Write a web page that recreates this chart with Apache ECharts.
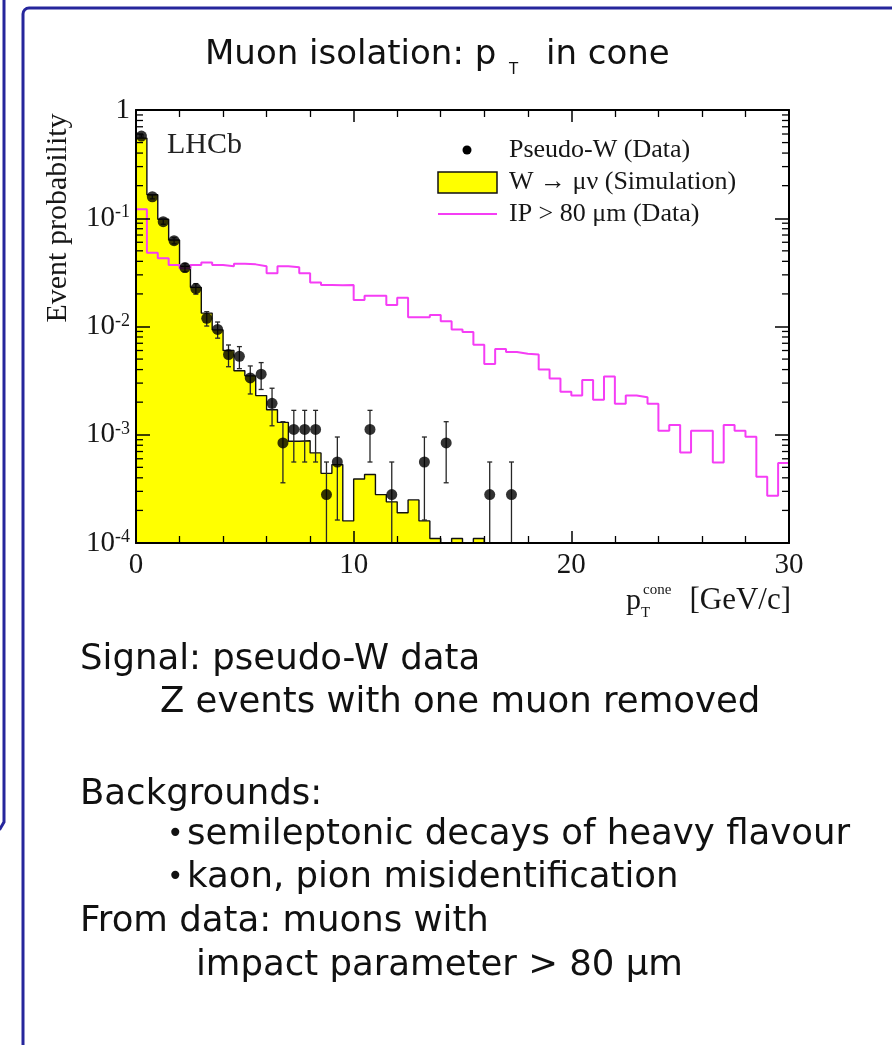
<!DOCTYPE html>
<html>
<head>
<meta charset="utf-8">
<script src="https://cdn.jsdelivr.net/npm/echarts@6/dist/echarts.min.js"></script>
<style>
  html, body { margin: 0; padding: 0; background: #ffffff; }
  #chart { width: 892px; height: 1045px; }
</style>
</head>
<body>
<div id="chart"></div>
<script>
// Bin edges of the p_T^cone histograms [GeV/c]
const binEdges = [0, 0.5, 1, 1.5, 2, 2.5, 3, 3.5, 4, 4.5, 5, 5.5, 6, 6.5, 7, 7.5, 8, 8.5, 9, 9.5,
  10, 10.5, 11, 11.5, 12, 12.5, 13, 13.5, 14, 14.5, 15, 15.5, 16, 16.5, 17, 17.5, 18, 18.5, 19, 19.5,
  20, 20.5, 21, 21.5, 22, 22.5, 23, 23.5, 24, 24.5, 25, 25.5, 26, 26.5, 27, 27.5, 28, 28.5, 29, 29.5, 30];

// W -> mu nu (Simulation): event probability per bin (0 = empty bin)
const simValues = [0.55, 0.165, 0.098, 0.063, 0.036, 0.023, 0.0133, 0.0093, 0.006, 0.0039,
  0.0035, 0.0023, 0.0017, 0.0013, 0.00087, 0.00088, 0.00068, 0.00044, 0.00053, 0.00016,
  0.00039, 0.00043, 0.00028, 0.00024, 0.00019, 0.00025, 0.00016, 0.00011, 0, 0.00011,
  0, 0.00011, 0, 0, 0, 0, 0, 0, 0, 0,
  0, 0, 0, 0, 0, 0, 0, 0, 0, 0,
  0, 0, 0, 0, 0, 0, 0, 0, 0, 0];

// IP > 80 um (Data): event probability per bin
const ipValues = [0.121, 0.048, 0.0427, 0.037, 0.0345, 0.037, 0.039, 0.037, 0.036, 0.038,
  0.0375, 0.036, 0.031, 0.036, 0.0352, 0.031, 0.0255, 0.0242, 0.024, 0.0242,
  0.0176, 0.0192, 0.0192, 0.0158, 0.0184, 0.0122, 0.0122, 0.0128, 0.0112, 0.0094,
  0.0089, 0.0068, 0.0045, 0.0062, 0.0058, 0.0056, 0.0055, 0.0040, 0.0033, 0.0025,
  0.0023, 0.0032, 0.0021, 0.00345, 0.00193, 0.0023, 0.00222, 0.00193, 0.00109, 0.00123,
  0.000685, 0.00109, 0.00109, 0.000554, 0.00123, 0.00109, 0.00096, 0.00041, 0.000273, 0.000547];

// Pseudo-W (Data): bin centres, values and error-bar ends (lo 0 = reaches the axis)
const dataX  = [0.25, 0.75, 1.25, 1.75, 2.25, 2.75, 3.25, 3.75, 4.25, 4.75, 5.25, 5.75, 6.25,
  6.75, 7.25, 7.75, 8.25, 8.75, 9.25, 10.75, 11.75, 13.25, 14.25, 16.25, 17.25];
const dataY  = [0.575, 0.158, 0.093, 0.062, 0.035, 0.0224, 0.0119, 0.0094, 0.0055, 0.0053, 0.00335, 0.00363, 0.00195,
  0.00084, 0.00112, 0.00112, 0.00112, 0.00028, 0.00056, 0.00112, 0.00028, 0.00056, 0.00084, 0.00028, 0.00028];
const dataLo = [0.562, 0.151, 0.088, 0.058, 0.032, 0.0199, 0.0101, 0.0078, 0.00425, 0.00408, 0.00238, 0.00262, 0.00121,
  0.00036, 0.00056, 0.00056, 0.00056, 0, 0.000163, 0.00056, 0, 0.000163, 0.00036, 0, 0];
const dataHi = [0.588, 0.165, 0.098, 0.066, 0.038, 0.0249, 0.0137, 0.0110, 0.00675, 0.00652, 0.00432, 0.00464, 0.00269,
  0.00132, 0.00168, 0.00168, 0.00168, 0.00056, 0.000953, 0.00168, 0.00056, 0.000953, 0.00132, 0.00056, 0.00056];

// Series names
const seriesNames = ['Pseudo-W (Data)', 'W \u2192 \u03bc\u03bd (Simulation)', 'IP > 80 \u03bcm (Data)'];

// Axis ranges
const X_MIN = 0, X_MAX = 30, X_STEP = 10;
const Y_MIN = 1e-4, Y_MAX = 1;

// Log-axis minor ticks (2..9 in each decade)
const yMinorTicks = [];
for (let d = -4; d < 0; d++) {
  for (let m = 2; m <= 9; m++) yMinorTicks.push(m * Math.pow(10, d));
}

const FLOOR = 1e-6; // empty bins are drawn below the visible range
const SERIF = 'Liberation Serif';
const SANS = 'DejaVu Sans';
const MAGENTA = '#f53df5';
const FRAME_BLUE = '#26269c';

const simLine = binEdges.slice(0, -1).map((x, i) => [x, simValues[i] > 0 ? simValues[i] : FLOOR]);
simLine.push([binEdges[binEdges.length - 1], FLOOR]);

const ipLine = [[binEdges[0], FLOOR]]
  .concat(binEdges.slice(0, -1).map((x, i) => [x, ipValues[i]]))
  .concat([[binEdges[binEdges.length - 1], ipValues[ipValues.length - 1]], [binEdges[binEdges.length - 1], FLOOR]]);

const pointData = dataX.map((x, i) => [x, dataY[i]]);
const errData = dataX.map((x, i) => [x, dataLo[i], dataHi[i]]);

const chart = echarts.init(document.getElementById('chart'), null, { renderer: 'canvas' });

const axisCommon = {
  min: X_MIN, max: X_MAX, interval: X_STEP, type: 'value', z: 10,
  axisLine: { show: true, onZero: false, lineStyle: { color: '#000', width: 2 } },
  axisTick: { show: true, inside: true, length: 12, lineStyle: { color: '#000', width: 1.5 } },
  minorTick: { show: true, splitNumber: 5, length: 7, lineStyle: { color: '#000', width: 1.3 } },
  splitLine: { show: false }, minorSplitLine: { show: false }
};
const yCommon = {
  type: 'log', logBase: 10, min: Y_MIN, max: Y_MAX, z: 10,
  axisLine: { show: true, onZero: false, lineStyle: { color: '#000', width: 2 } },
  axisTick: { show: true, inside: true, length: 14, lineStyle: { color: '#000', width: 1.5 } },
  minorTick: { show: false }, splitLine: { show: false }
};

const textColor = '#161616';
const bodyFont = { fontFamily: SANS, fontSize: 35.5, fill: '#111', verticalAlign: 'middle' };

const option = {
  animation: false,
  backgroundColor: '#ffffff',
  grid: { left: 136, top: 110, width: 653, height: 433, containLabel: false },
  xAxis: [
    Object.assign({}, axisCommon, {
      position: 'bottom',
      axisLabel: { show: true, fontFamily: SERIF, fontSize: 29, color: textColor, margin: 8 }
    }),
    Object.assign({}, axisCommon, { position: 'top', axisLabel: { show: false } })
  ],
  yAxis: [
    Object.assign({}, yCommon, {
      position: 'left',
      axisLabel: {
        show: true, margin: 6,
        formatter: v => {
          const e = Math.round(Math.log10(v));
          return e === 0 ? '{b|1}' : '{b|10}{s|' + e + '}';
        },
        rich: {
          b: { fontFamily: SERIF, fontSize: 29, color: textColor },
          s: { fontFamily: SERIF, fontSize: 18, color: textColor, verticalAlign: 'top' }
        }
      }
    }),
    Object.assign({}, yCommon, { position: 'right', axisLabel: { show: false } })
  ],
  series: [
    {
      name: seriesNames[1], type: 'line', step: 'end', data: simLine,
      xAxisIndex: 0, yAxisIndex: 0, showSymbol: false, symbol: 'none', clip: true, z: 2,
      lineStyle: { color: '#111', width: 1.4 },
      areaStyle: { color: '#ffff00', opacity: 1, origin: 'start' }
    },
    {
      name: seriesNames[2], type: 'line', step: 'end', data: ipLine,
      xAxisIndex: 0, yAxisIndex: 0, showSymbol: false, symbol: 'none', clip: true, z: 3,
      lineStyle: { color: MAGENTA, width: 2 }
    },
    {
      name: seriesNames[0] + ' errors', type: 'custom', data: errData,
      xAxisIndex: 0, yAxisIndex: 0, z: 4, silent: true, clip: true,
      encode: { x: 0, y: [1, 2] },
      renderItem: (params, api) => {
        const cs = params.coordSys;
        const x = api.value(0), lo = api.value(1), hi = api.value(2);
        const top = api.coord([x, hi]);
        const bottomY = lo > 0 ? api.coord([x, lo])[1] : cs.y + cs.height;
        const st = { stroke: '#262626', lineWidth: 1.3 };
        const kids = [
          { type: 'line', shape: { x1: top[0], y1: top[1], x2: top[0], y2: bottomY }, style: st },
          { type: 'line', shape: { x1: top[0] - 2.5, y1: top[1], x2: top[0] + 2.5, y2: top[1] }, style: st }
        ];
        if (lo > 0) kids.push({ type: 'line', shape: { x1: top[0] - 2.5, y1: bottomY, x2: top[0] + 2.5, y2: bottomY }, style: st });
        return { type: 'group', children: kids };
      }
    },
    {
      name: seriesNames[0], type: 'scatter', data: pointData,
      xAxisIndex: 0, yAxisIndex: 0, z: 5, symbol: 'circle', symbolSize: 11,
      itemStyle: { color: '#000' }
    },
    {
      name: 'log minor ticks', type: 'custom', data: yMinorTicks.map(v => [X_MIN, v]),
      xAxisIndex: 0, yAxisIndex: 0, z: 12, silent: true, clip: false,
      renderItem: (params, api) => {
        const cs = params.coordSys;
        const y = api.coord([X_MIN, api.value(1)])[1];
        const st = { stroke: '#000', lineWidth: 1.3 };
        return { type: 'group', children: [
          { type: 'line', shape: { x1: cs.x, y1: y, x2: cs.x + 7, y2: y }, style: st },
          { type: 'line', shape: { x1: cs.x + cs.width - 7, y1: y, x2: cs.x + cs.width, y2: y }, style: st }
        ] };
      }
    }
  ],
  graphic: [
    // slide frames
    { type: 'polyline', z: 0, shape: { points: [[4, -5], [4, 822], [0, 829], [-6, 830]] },
      style: { stroke: FRAME_BLUE, lineWidth: 3, fill: null } },
    { type: 'rect', z: 0, shape: { x: 23, y: 8, width: 900, height: 1100, r: 6 },
      style: { stroke: FRAME_BLUE, lineWidth: 3, fill: null } },
    // title
    { type: 'text', z: 20, x: 205, y: 55, style: { text: 'Muon isolation: p', verticalAlign: 'middle', fontFamily: SANS, fontSize: 34, fill: '#111' } },
    { type: 'text', z: 20, x: 509, y: 70, style: { text: 'T', verticalAlign: 'middle', fontFamily: SANS, fontSize: 15, fill: '#111' } },
    { type: 'text', z: 20, x: 546, y: 55, style: { text: 'in cone', verticalAlign: 'middle', fontFamily: SANS, fontSize: 34, fill: '#111' } },
    // axis titles
    { type: 'text', z: 20, x: 58, y: 218, rotation: Math.PI / 2, style: {
        text: 'Event probability', align: 'center', verticalAlign: 'middle',
        fontFamily: SERIF, fontSize: 30, fill: textColor } },
    { type: 'text', z: 20, x: 626, y: 601, style: { text: 'p', verticalAlign: 'middle', fontFamily: SERIF, fontSize: 30, fill: textColor } },
    { type: 'text', z: 20, x: 641, y: 613, style: { text: 'T', verticalAlign: 'middle', fontFamily: SERIF, fontSize: 15, fill: textColor } },
    { type: 'text', z: 20, x: 643, y: 590, style: { text: 'cone', verticalAlign: 'middle', fontFamily: SERIF, fontSize: 15, fill: textColor } },
    { type: 'text', z: 20, x: 791, y: 601, style: { text: '[GeV/c]', align: 'right', verticalAlign: 'middle', fontFamily: SERIF, fontSize: 31, fill: textColor } },
    // experiment label
    { type: 'text', z: 20, x: 167, y: 145, style: { text: 'LHCb', verticalAlign: 'middle', fontFamily: SERIF, fontSize: 30, fill: '#222' } },
    // legend
    { type: 'circle', z: 20, shape: { cx: 467, cy: 150, r: 4.5 }, style: { fill: '#000' } },
    { type: 'rect', z: 20, shape: { x: 438, y: 172, width: 59, height: 21 }, style: { fill: '#ffff00', stroke: '#111', lineWidth: 1.5 } },
    { type: 'line', z: 20, shape: { x1: 438, y1: 214, x2: 497, y2: 214 }, style: { stroke: MAGENTA, lineWidth: 2 } },
    { type: 'text', z: 20, x: 509, y: 150, style: { text: seriesNames[0], verticalAlign: 'middle', fontFamily: SERIF, fontSize: 26, fill: textColor } },
    { type: 'text', z: 20, x: 509, y: 182, style: { text: seriesNames[1], verticalAlign: 'middle', fontFamily: SERIF, fontSize: 26, fill: textColor } },
    { type: 'text', z: 20, x: 509, y: 214, style: { text: seriesNames[2], verticalAlign: 'middle', fontFamily: SERIF, fontSize: 26, fill: textColor } },
    // slide text
    { type: 'text', z: 20, x: 80, y: 660, style: Object.assign({ text: 'Signal: pseudo-W data' }, bodyFont) },
    { type: 'text', z: 20, x: 160, y: 703, style: Object.assign({ text: 'Z events with one muon removed' }, bodyFont) },
    { type: 'text', z: 20, x: 80, y: 795, style: Object.assign({ text: 'Backgrounds:' }, bodyFont) },
    { type: 'text', z: 20, x: 167, y: 835, style: Object.assign({}, bodyFont, { text: '\u2022', fontSize: 28 }) },
    { type: 'text', z: 20, x: 187, y: 835, style: Object.assign({ text: 'semileptonic decays of heavy flavour' }, bodyFont) },
    { type: 'text', z: 20, x: 167, y: 878, style: Object.assign({}, bodyFont, { text: '\u2022', fontSize: 28 }) },
    { type: 'text', z: 20, x: 187, y: 878, style: Object.assign({ text: 'kaon, pion misidentification' }, bodyFont) },
    { type: 'text', z: 20, x: 80, y: 922, style: Object.assign({ text: 'From data: muons with' }, bodyFont) },
    { type: 'text', z: 20, x: 196, y: 966, style: Object.assign({ text: 'impact parameter > 80 \u03bcm' }, bodyFont) }
  ]
};

chart.setOption(option);
</script>
</body>
</html>
